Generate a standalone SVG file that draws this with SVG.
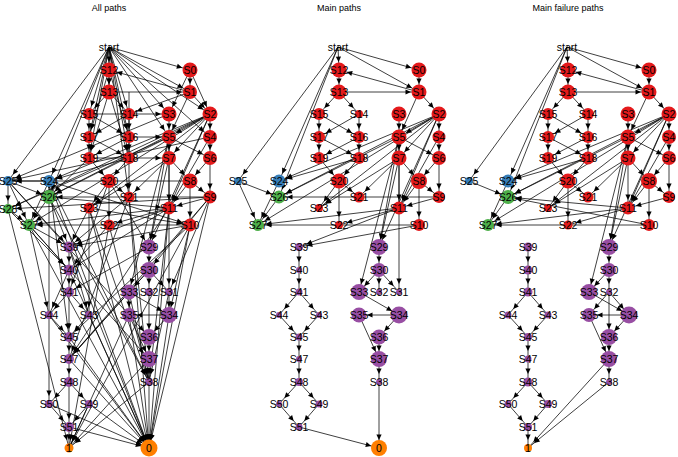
<svg xmlns="http://www.w3.org/2000/svg" width="678" height="457" viewBox="0 0 678 457">
<style>
text{font-family:"Liberation Sans",Arial,sans-serif;font-size:10.5px;fill:#000;text-anchor:middle;dominant-baseline:central}
.t{font-size:9px}
line{stroke:#000;stroke-width:0.75}
.r{fill:#E41A1C}.b{fill:#377EB8}.g{fill:#4DAF4A}.p{fill:#984EA3}.o{fill:#FF7F00}
</style>
<defs>
<marker id="a" markerUnits="userSpaceOnUse" viewBox="-8 -4 20 8" markerWidth="20" markerHeight="8" refX="8" refY="0" orient="auto" overflow="visible">
<path d="M-5.5,-2.6 L0,0 L-5.5,2.6 z" fill="#000"/>
</marker>
</defs>
<rect width="678" height="457" fill="#fff"/>
<text class="t" x="109" y="8">All paths</text>
<text class="t" x="339" y="8">Main paths</text>
<text class="t" x="568" y="8">Main failure paths</text>
<g id="connectors" marker-end="url(#a)">
<line x1="338" y1="47" x2="339" y2="70"/><line x1="338" y1="47" x2="419" y2="70"/><line x1="338" y1="47" x2="419" y2="92"/>
<line x1="338" y1="47" x2="238" y2="181"/><line x1="338" y1="47" x2="279" y2="181"/><line x1="338" y1="47" x2="279" y2="197"/>
<line x1="419" y1="70" x2="419" y2="92"/><line x1="419" y1="92" x2="339" y2="70"/><line x1="339" y1="92" x2="419" y2="92"/>
<line x1="339" y1="70" x2="339" y2="92"/>
<line x1="339" y1="92" x2="319" y2="114"/><line x1="339" y1="92" x2="359" y2="114"/>
<line x1="319" y1="114" x2="319" y2="137"/><line x1="319" y1="114" x2="359" y2="137"/><line x1="359" y1="114" x2="319" y2="137"/><line x1="359" y1="114" x2="359" y2="137"/>
<line x1="319" y1="137" x2="319" y2="158"/><line x1="319" y1="137" x2="359" y2="158"/><line x1="359" y1="137" x2="319" y2="158"/><line x1="359" y1="137" x2="359" y2="158"/>
<line x1="319" y1="158" x2="339" y2="181"/><line x1="359" y1="158" x2="339" y2="181"/><line x1="359" y1="158" x2="279" y2="181"/>
<line x1="339" y1="181" x2="359" y2="197"/><line x1="339" y1="181" x2="339" y2="225"/><line x1="339" y1="181" x2="319" y2="208"/>
<line x1="419" y1="92" x2="399" y2="137"/><line x1="419" y1="92" x2="439" y2="114"/><line x1="399" y1="114" x2="399" y2="137"/>
<line x1="439" y1="114" x2="439" y2="137"/><line x1="439" y1="137" x2="439" y2="158"/><line x1="399" y1="137" x2="399" y2="158"/><line x1="399" y1="137" x2="439" y2="158"/>
<line x1="439" y1="114" x2="399" y2="137"/><line x1="439" y1="114" x2="399" y2="158"/><line x1="439" y1="114" x2="279" y2="181"/><line x1="439" y1="114" x2="279" y2="197"/>
<line x1="439" y1="114" x2="258" y2="225"/><line x1="439" y1="114" x2="399" y2="208"/><line x1="439" y1="114" x2="319" y2="208"/><line x1="439" y1="114" x2="379" y2="247"/>
<line x1="399" y1="158" x2="419" y2="181"/><line x1="439" y1="158" x2="419" y2="181"/><line x1="419" y1="181" x2="439" y2="197"/><line x1="419" y1="181" x2="419" y2="225"/>
<line x1="419" y1="181" x2="399" y2="208"/><line x1="439" y1="158" x2="439" y2="197"/><line x1="439" y1="197" x2="399" y2="208"/><line x1="439" y1="197" x2="279" y2="197"/>
<line x1="399" y1="208" x2="258" y2="225"/><line x1="419" y1="225" x2="258" y2="225"/><line x1="399" y1="208" x2="299" y2="247"/><line x1="419" y1="225" x2="299" y2="247"/>
<line x1="399" y1="158" x2="359" y2="197"/><line x1="399" y1="158" x2="319" y2="208"/><line x1="399" y1="208" x2="339" y2="225"/><line x1="439" y1="137" x2="399" y2="208"/>
<line x1="399" y1="137" x2="379" y2="247"/><line x1="399" y1="158" x2="379" y2="247"/><line x1="399" y1="158" x2="399" y2="292"/><line x1="399" y1="137" x2="359" y2="292"/>
<line x1="399" y1="137" x2="399" y2="208"/><line x1="399" y1="137" x2="279" y2="197"/>
<line x1="238" y1="181" x2="279" y2="197"/><line x1="238" y1="181" x2="258" y2="225"/><line x1="279" y1="181" x2="258" y2="225"/><line x1="279" y1="197" x2="258" y2="225"/>
<line x1="299" y1="247" x2="299" y2="270"/><line x1="299" y1="270" x2="299" y2="292"/><line x1="299" y1="292" x2="279" y2="315"/><line x1="299" y1="292" x2="319" y2="315"/>
<line x1="279" y1="315" x2="299" y2="337"/><line x1="319" y1="315" x2="299" y2="337"/><line x1="299" y1="337" x2="299" y2="359"/><line x1="299" y1="359" x2="299" y2="382"/>
<line x1="299" y1="382" x2="279" y2="404"/><line x1="299" y1="382" x2="319" y2="404"/><line x1="279" y1="404" x2="299" y2="427"/><line x1="319" y1="404" x2="299" y2="427"/>
<line x1="299" y1="427" x2="379" y2="448"/>
<line x1="379" y1="247" x2="379" y2="270"/><line x1="379" y1="270" x2="359" y2="292"/><line x1="379" y1="270" x2="379" y2="292"/><line x1="379" y1="270" x2="399" y2="292"/>
<line x1="359" y1="292" x2="399" y2="315"/><line x1="399" y1="315" x2="359" y2="315"/><line x1="399" y1="315" x2="379" y2="337"/><line x1="359" y1="315" x2="379" y2="359"/>
<line x1="379" y1="337" x2="379" y2="359"/><line x1="379" y1="359" x2="379" y2="382"/><line x1="379" y1="382" x2="379" y2="448"/>
<line x1="567" y1="47" x2="568" y2="70"/><line x1="567" y1="47" x2="649" y2="70"/><line x1="567" y1="47" x2="649" y2="92"/>
<line x1="567" y1="47" x2="469" y2="181"/><line x1="567" y1="47" x2="508" y2="181"/><line x1="567" y1="47" x2="508" y2="197"/>
<line x1="649" y1="70" x2="649" y2="92"/><line x1="649" y1="92" x2="568" y2="70"/><line x1="568" y1="92" x2="649" y2="92"/>
<line x1="568" y1="70" x2="568" y2="92"/>
<line x1="568" y1="92" x2="548" y2="114"/><line x1="568" y1="92" x2="588" y2="114"/>
<line x1="548" y1="114" x2="548" y2="137"/><line x1="548" y1="114" x2="588" y2="137"/><line x1="588" y1="114" x2="548" y2="137"/><line x1="588" y1="114" x2="588" y2="137"/>
<line x1="548" y1="137" x2="548" y2="158"/><line x1="548" y1="137" x2="588" y2="158"/><line x1="588" y1="137" x2="548" y2="158"/><line x1="588" y1="137" x2="588" y2="158"/>
<line x1="548" y1="158" x2="568" y2="181"/><line x1="588" y1="158" x2="568" y2="181"/><line x1="588" y1="158" x2="508" y2="181"/>
<line x1="568" y1="181" x2="588" y2="197"/><line x1="568" y1="181" x2="568" y2="225"/><line x1="568" y1="181" x2="548" y2="208"/>
<line x1="649" y1="92" x2="628" y2="137"/><line x1="649" y1="92" x2="669" y2="114"/><line x1="628" y1="114" x2="628" y2="137"/>
<line x1="669" y1="114" x2="669" y2="137"/><line x1="669" y1="137" x2="669" y2="158"/><line x1="628" y1="137" x2="628" y2="158"/><line x1="628" y1="137" x2="669" y2="158"/>
<line x1="669" y1="114" x2="628" y2="137"/><line x1="669" y1="114" x2="628" y2="158"/><line x1="669" y1="114" x2="508" y2="181"/><line x1="669" y1="114" x2="508" y2="197"/>
<line x1="669" y1="114" x2="488" y2="225"/><line x1="669" y1="114" x2="628" y2="208"/><line x1="669" y1="114" x2="548" y2="208"/><line x1="669" y1="114" x2="609" y2="247"/>
<line x1="628" y1="158" x2="649" y2="181"/><line x1="669" y1="158" x2="649" y2="181"/><line x1="649" y1="181" x2="669" y2="197"/><line x1="649" y1="181" x2="649" y2="225"/>
<line x1="649" y1="181" x2="628" y2="208"/><line x1="669" y1="158" x2="669" y2="197"/><line x1="669" y1="197" x2="628" y2="208"/><line x1="628" y1="208" x2="508" y2="197"/>
<line x1="628" y1="208" x2="488" y2="225"/><line x1="649" y1="225" x2="488" y2="225"/><line x1="649" y1="225" x2="508" y2="197"/>
<line x1="628" y1="158" x2="588" y2="197"/><line x1="628" y1="158" x2="548" y2="208"/><line x1="628" y1="208" x2="568" y2="225"/><line x1="669" y1="137" x2="628" y2="208"/>
<line x1="628" y1="137" x2="609" y2="247"/><line x1="628" y1="158" x2="609" y2="247"/><line x1="628" y1="137" x2="589" y2="292"/>
<line x1="628" y1="137" x2="628" y2="208"/><line x1="628" y1="137" x2="508" y2="197"/>
<line x1="469" y1="181" x2="508" y2="197"/><line x1="508" y1="181" x2="488" y2="225"/><line x1="508" y1="197" x2="488" y2="225"/>
<line x1="528" y1="247" x2="528" y2="270"/><line x1="528" y1="270" x2="528" y2="292"/><line x1="528" y1="292" x2="508" y2="315"/><line x1="528" y1="292" x2="548" y2="315"/>
<line x1="508" y1="315" x2="528" y2="337"/><line x1="548" y1="315" x2="528" y2="337"/><line x1="528" y1="337" x2="528" y2="359"/><line x1="528" y1="359" x2="528" y2="382"/>
<line x1="528" y1="382" x2="508" y2="404"/><line x1="528" y1="382" x2="548" y2="404"/><line x1="508" y1="404" x2="528" y2="427"/><line x1="548" y1="404" x2="528" y2="427"/>
<line x1="528" y1="427" x2="528" y2="448"/>
<line x1="609" y1="247" x2="609" y2="270"/><line x1="609" y1="270" x2="589" y2="292"/><line x1="609" y1="270" x2="609" y2="292"/>
<line x1="589" y1="292" x2="629" y2="315"/><line x1="609" y1="292" x2="589" y2="315"/><line x1="609" y1="292" x2="629" y2="315"/><line x1="609" y1="292" x2="609" y2="337"/>
<line x1="629" y1="315" x2="589" y2="315"/><line x1="629" y1="315" x2="609" y2="337"/><line x1="589" y1="315" x2="609" y2="359"/>
<line x1="609" y1="337" x2="609" y2="359"/><line x1="609" y1="359" x2="609" y2="382"/><line x1="609" y1="359" x2="528" y2="448"/><line x1="609" y1="382" x2="528" y2="448"/>
<line x1="109" y1="47" x2="109" y2="70"/><line x1="109" y1="47" x2="190" y2="70"/><line x1="109" y1="47" x2="190" y2="92"/><line x1="109" y1="47" x2="109" y2="92"/>
<line x1="109" y1="47" x2="8" y2="181"/><line x1="109" y1="47" x2="49" y2="181"/><line x1="109" y1="47" x2="49" y2="197"/><line x1="109" y1="47" x2="89" y2="114"/>
<line x1="109" y1="47" x2="129" y2="114"/><line x1="109" y1="47" x2="169" y2="114"/><line x1="109" y1="47" x2="210" y2="114"/><line x1="109" y1="47" x2="89" y2="137"/>
<line x1="109" y1="47" x2="129" y2="137"/><line x1="109" y1="47" x2="169" y2="137"/><line x1="109" y1="47" x2="89" y2="158"/><line x1="109" y1="47" x2="129" y2="158"/>
<line x1="109" y1="47" x2="129" y2="197"/><line x1="109" y1="47" x2="210" y2="137"/>
<line x1="190" y1="70" x2="190" y2="92"/><line x1="190" y1="92" x2="109" y2="70"/><line x1="109" y1="92" x2="190" y2="92"/><line x1="109" y1="70" x2="109" y2="92"/>
<line x1="190" y1="70" x2="210" y2="114"/><line x1="190" y1="70" x2="169" y2="114"/><line x1="109" y1="70" x2="129" y2="137"/><line x1="109" y1="70" x2="89" y2="137"/>
<line x1="109" y1="92" x2="89" y2="114"/><line x1="109" y1="92" x2="129" y2="114"/><line x1="109" y1="92" x2="89" y2="158"/><line x1="109" y1="92" x2="129" y2="158"/>
<line x1="89" y1="114" x2="89" y2="137"/><line x1="89" y1="114" x2="129" y2="137"/><line x1="129" y1="114" x2="89" y2="137"/><line x1="129" y1="114" x2="129" y2="137"/>
<line x1="89" y1="137" x2="89" y2="158"/><line x1="89" y1="137" x2="129" y2="158"/><line x1="129" y1="137" x2="89" y2="158"/><line x1="129" y1="137" x2="129" y2="158"/>
<line x1="89" y1="114" x2="169" y2="114"/><line x1="129" y1="137" x2="169" y2="137"/><line x1="89" y1="158" x2="169" y2="158"/>
<line x1="89" y1="158" x2="109" y2="181"/><line x1="129" y1="158" x2="109" y2="181"/><line x1="129" y1="158" x2="49" y2="181"/><line x1="89" y1="158" x2="49" y2="197"/>
<line x1="109" y1="181" x2="129" y2="197"/><line x1="109" y1="181" x2="109" y2="225"/><line x1="109" y1="181" x2="89" y2="208"/><line x1="129" y1="92" x2="129" y2="197"/>
<line x1="190" y1="92" x2="169" y2="137"/><line x1="190" y1="92" x2="210" y2="114"/><line x1="169" y1="114" x2="169" y2="137"/><line x1="190" y1="92" x2="129" y2="114"/>
<line x1="210" y1="114" x2="210" y2="137"/><line x1="210" y1="137" x2="210" y2="158"/><line x1="169" y1="137" x2="169" y2="158"/><line x1="169" y1="137" x2="210" y2="158"/>
<line x1="210" y1="114" x2="169" y2="137"/><line x1="210" y1="114" x2="169" y2="158"/><line x1="210" y1="114" x2="49" y2="181"/><line x1="210" y1="114" x2="49" y2="197"/>
<line x1="210" y1="114" x2="29" y2="225"/><line x1="210" y1="114" x2="169" y2="208"/><line x1="210" y1="114" x2="89" y2="208"/><line x1="210" y1="114" x2="149" y2="247"/>
<line x1="210" y1="114" x2="8" y2="209"/><line x1="169" y1="114" x2="8" y2="181"/><line x1="210" y1="137" x2="8" y2="181"/><line x1="169" y1="137" x2="8" y2="209"/>
<line x1="169" y1="158" x2="190" y2="181"/><line x1="210" y1="158" x2="190" y2="181"/><line x1="190" y1="181" x2="210" y2="197"/><line x1="190" y1="181" x2="190" y2="225"/>
<line x1="190" y1="181" x2="169" y2="208"/><line x1="210" y1="158" x2="210" y2="197"/><line x1="210" y1="197" x2="169" y2="208"/><line x1="210" y1="197" x2="49" y2="197"/>
<line x1="169" y1="208" x2="29" y2="225"/><line x1="190" y1="225" x2="29" y2="225"/><line x1="169" y1="208" x2="69" y2="247"/><line x1="190" y1="225" x2="69" y2="247"/>
<line x1="169" y1="158" x2="129" y2="197"/><line x1="169" y1="158" x2="89" y2="208"/><line x1="169" y1="208" x2="109" y2="225"/><line x1="210" y1="137" x2="169" y2="208"/>
<line x1="169" y1="137" x2="149" y2="247"/><line x1="169" y1="158" x2="149" y2="247"/><line x1="169" y1="158" x2="169" y2="292"/><line x1="169" y1="137" x2="129" y2="292"/>
<line x1="169" y1="137" x2="169" y2="208"/><line x1="169" y1="137" x2="49" y2="197"/><line x1="210" y1="197" x2="8" y2="209"/><line x1="190" y1="181" x2="8" y2="181"/>
<line x1="8" y1="181" x2="49" y2="197"/><line x1="8" y1="181" x2="8" y2="209"/><line x1="8" y1="181" x2="29" y2="225"/><line x1="49" y1="181" x2="29" y2="225"/><line x1="49" y1="197" x2="29" y2="225"/>
<line x1="8" y1="209" x2="29" y2="225"/><line x1="49" y1="181" x2="8" y2="181"/><line x1="49" y1="181" x2="49" y2="197"/>
<line x1="8" y1="181" x2="69" y2="247"/><line x1="8" y1="209" x2="69" y2="270"/><line x1="29" y1="225" x2="69" y2="247"/><line x1="29" y1="225" x2="69" y2="270"/><line x1="29" y1="225" x2="49" y2="315"/>
<line x1="49" y1="197" x2="69" y2="247"/><line x1="49" y1="197" x2="49" y2="404"/><line x1="49" y1="181" x2="69" y2="337"/><line x1="8" y1="209" x2="69" y2="448"/><line x1="29" y1="225" x2="149" y2="448"/>
<line x1="49" y1="197" x2="149" y2="382"/><line x1="8" y1="181" x2="149" y2="337"/><line x1="29" y1="225" x2="149" y2="359"/><line x1="49" y1="181" x2="149" y2="448"/>
<line x1="89" y1="208" x2="69" y2="247"/><line x1="89" y1="208" x2="89" y2="315"/><line x1="89" y1="208" x2="149" y2="448"/><line x1="109" y1="225" x2="69" y2="270"/><line x1="109" y1="225" x2="69" y2="448"/>
<line x1="129" y1="197" x2="69" y2="247"/><line x1="129" y1="197" x2="149" y2="448"/><line x1="129" y1="197" x2="69" y2="359"/><line x1="89" y1="208" x2="190" y2="225"/>
<line x1="169" y1="208" x2="69" y2="270"/><line x1="169" y1="208" x2="149" y2="448"/><line x1="190" y1="225" x2="149" y2="448"/><line x1="190" y1="225" x2="69" y2="448"/><line x1="210" y1="197" x2="169" y2="292"/>
<line x1="210" y1="197" x2="149" y2="448"/><line x1="210" y1="197" x2="149" y2="270"/><line x1="190" y1="225" x2="169" y2="315"/><line x1="169" y1="208" x2="149" y2="382"/>
<line x1="109" y1="181" x2="149" y2="247"/><line x1="109" y1="181" x2="69" y2="292"/><line x1="49" y1="181" x2="190" y2="225"/><line x1="49" y1="197" x2="169" y2="208"/>
<line x1="69" y1="247" x2="69" y2="270"/><line x1="69" y1="270" x2="69" y2="292"/><line x1="69" y1="292" x2="49" y2="315"/><line x1="69" y1="292" x2="89" y2="315"/>
<line x1="49" y1="315" x2="69" y2="337"/><line x1="89" y1="315" x2="69" y2="337"/><line x1="69" y1="337" x2="69" y2="359"/><line x1="69" y1="359" x2="69" y2="382"/>
<line x1="69" y1="382" x2="49" y2="404"/><line x1="69" y1="382" x2="89" y2="404"/><line x1="49" y1="404" x2="69" y2="427"/><line x1="89" y1="404" x2="69" y2="427"/>
<line x1="69" y1="427" x2="149" y2="448"/><line x1="69" y1="427" x2="69" y2="448"/><line x1="69" y1="247" x2="149" y2="448"/><line x1="69" y1="270" x2="149" y2="448"/>
<line x1="69" y1="270" x2="49" y2="315"/><line x1="69" y1="247" x2="89" y2="315"/><line x1="69" y1="292" x2="69" y2="337"/><line x1="69" y1="382" x2="69" y2="427"/>
<line x1="49" y1="315" x2="149" y2="448"/><line x1="89" y1="315" x2="149" y2="448"/><line x1="69" y1="337" x2="149" y2="448"/><line x1="69" y1="359" x2="149" y2="448"/>
<line x1="89" y1="404" x2="149" y2="448"/><line x1="49" y1="404" x2="149" y2="448"/><line x1="89" y1="404" x2="69" y2="448"/>
<line x1="149" y1="247" x2="149" y2="270"/><line x1="149" y1="270" x2="129" y2="292"/><line x1="149" y1="270" x2="149" y2="292"/><line x1="149" y1="270" x2="169" y2="292"/>
<line x1="129" y1="292" x2="169" y2="315"/><line x1="169" y1="315" x2="129" y2="315"/><line x1="169" y1="315" x2="149" y2="337"/><line x1="129" y1="315" x2="149" y2="359"/>
<line x1="149" y1="337" x2="149" y2="359"/><line x1="149" y1="359" x2="149" y2="382"/><line x1="149" y1="382" x2="149" y2="448"/><line x1="149" y1="359" x2="69" y2="448"/>
<line x1="149" y1="382" x2="69" y2="448"/><line x1="129" y1="292" x2="69" y2="359"/><line x1="129" y1="315" x2="69" y2="448"/><line x1="169" y1="292" x2="169" y2="315"/>
<line x1="149" y1="292" x2="149" y2="337"/><line x1="129" y1="292" x2="129" y2="315"/><line x1="149" y1="247" x2="69" y2="292"/><line x1="149" y1="270" x2="69" y2="359"/>
<line x1="129" y1="292" x2="149" y2="382"/><line x1="169" y1="315" x2="149" y2="448"/><line x1="129" y1="315" x2="149" y2="448"/><line x1="169" y1="292" x2="149" y2="382"/>
<line x1="129" y1="197" x2="149" y2="382"/><line x1="89" y1="208" x2="149" y2="382"/><line x1="109" y1="225" x2="149" y2="382"/><line x1="49" y1="181" x2="149" y2="382"/>
<line x1="169" y1="208" x2="69" y2="359"/><line x1="210" y1="197" x2="69" y2="359"/><line x1="190" y1="225" x2="69" y2="337"/>
</g>
<g id="nodes">
<g id="L-start"><text x="109" y="47">start</text></g>
<g id="L-S12"><circle class="r" cx="109" cy="70" r="7.5"/><text x="109" y="70">S12</text></g>
<g id="L-S0"><circle class="r" cx="190" cy="70" r="7.5"/><text x="190" y="70">S0</text></g>
<g id="L-S13"><circle class="r" cx="109" cy="92" r="7.5"/><text x="109" y="92">S13</text></g>
<g id="L-S1"><circle class="r" cx="190" cy="92" r="7"/><text x="190" y="92">S1</text></g>
<g id="L-S15"><circle class="r" cx="89" cy="114" r="6"/><text x="89" y="114">S15</text></g>
<g id="L-S14"><circle class="r" cx="129" cy="114" r="6"/><text x="129" y="114">S14</text></g>
<g id="L-S3"><circle class="r" cx="169" cy="114" r="7.5"/><text x="169" y="114">S3</text></g>
<g id="L-S2"><circle class="r" cx="210" cy="114" r="7.5"/><text x="210" y="114">S2</text></g>
<g id="L-S17"><circle class="r" cx="89" cy="137" r="6"/><text x="89" y="137">S17</text></g>
<g id="L-S16"><circle class="r" cx="129" cy="137" r="6"/><text x="129" y="137">S16</text></g>
<g id="L-S5"><circle class="r" cx="169" cy="137" r="7"/><text x="169" y="137">S5</text></g>
<g id="L-S4"><circle class="r" cx="210" cy="137" r="7"/><text x="210" y="137">S4</text></g>
<g id="L-S19"><circle class="r" cx="89" cy="158" r="6"/><text x="89" y="158">S19</text></g>
<g id="L-S18"><circle class="r" cx="129" cy="158" r="6"/><text x="129" y="158">S18</text></g>
<g id="L-S7"><circle class="r" cx="169" cy="158" r="7"/><text x="169" y="158">S7</text></g>
<g id="L-S6"><circle class="r" cx="210" cy="158" r="7"/><text x="210" y="158">S6</text></g>
<g id="L-S25"><circle class="b" cx="8" cy="181" r="5"/><text x="8" y="181">S25</text></g>
<g id="L-S24"><circle class="b" cx="49" cy="181" r="6"/><text x="49" y="181">S24</text></g>
<g id="L-S20"><circle class="r" cx="109" cy="181" r="7"/><text x="109" y="181">S20</text></g>
<g id="L-S8"><circle class="r" cx="190" cy="181" r="7.5"/><text x="190" y="181">S8</text></g>
<g id="L-S26"><circle class="g" cx="49" cy="197" r="7"/><text x="49" y="197">S26</text></g>
<g id="L-S21"><circle class="r" cx="129" cy="197" r="5.5"/><text x="129" y="197">S21</text></g>
<g id="L-S9"><circle class="r" cx="210" cy="197" r="6.5"/><text x="210" y="197">S9</text></g>
<g id="L-S28"><circle class="g" cx="8" cy="209" r="5"/><text x="8" y="209">S28</text></g>
<g id="L-S23"><circle class="r" cx="89" cy="208" r="5.5"/><text x="89" y="208">S23</text></g>
<g id="L-S11"><circle class="r" cx="169" cy="208" r="6.5"/><text x="169" y="208">S11</text></g>
<g id="L-S27"><circle class="g" cx="29" cy="225" r="6"/><text x="29" y="225">S27</text></g>
<g id="L-S22"><circle class="r" cx="109" cy="225" r="5.5"/><text x="109" y="225">S22</text></g>
<g id="L-S10"><circle class="r" cx="190" cy="225" r="6.5"/><text x="190" y="225">S10</text></g>
<g id="L-S39"><circle class="p" cx="69" cy="247" r="5.5"/><text x="69" y="247">S39</text></g>
<g id="L-S29"><circle class="p" cx="149" cy="247" r="7.5"/><text x="149" y="247">S29</text></g>
<g id="L-S40"><circle class="p" cx="69" cy="270" r="5.5"/><text x="69" y="270">S40</text></g>
<g id="L-S30"><circle class="p" cx="149" cy="270" r="8"/><text x="149" y="270">S30</text></g>
<g id="L-S41"><circle class="p" cx="69" cy="292" r="5"/><text x="69" y="292">S41</text></g>
<g id="L-S33"><circle class="p" cx="129" cy="292" r="7.5"/><text x="129" y="292">S33</text></g>
<g id="L-S32"><circle class="p" cx="149" cy="292" r="4"/><text x="149" y="292">S32</text></g>
<g id="L-S31"><circle class="p" cx="169" cy="292" r="4"/><text x="169" y="292">S31</text></g>
<g id="L-S44"><circle class="p" cx="49" cy="315" r="4"/><text x="49" y="315">S44</text></g>
<g id="L-S43"><circle class="p" cx="89" cy="315" r="4"/><text x="89" y="315">S43</text></g>
<g id="L-S35"><circle class="p" cx="129" cy="315" r="7"/><text x="129" y="315">S35</text></g>
<g id="L-S34"><circle class="p" cx="169" cy="315" r="8"/><text x="169" y="315">S34</text></g>
<g id="L-S45"><circle class="p" cx="69" cy="337" r="5"/><text x="69" y="337">S45</text></g>
<g id="L-S36"><circle class="p" cx="149" cy="337" r="8"/><text x="149" y="337">S36</text></g>
<g id="L-S47"><circle class="p" cx="69" cy="359" r="5"/><text x="69" y="359">S47</text></g>
<g id="L-S37"><circle class="p" cx="149" cy="359" r="8"/><text x="149" y="359">S37</text></g>
<g id="L-S48"><circle class="p" cx="69" cy="382" r="5"/><text x="69" y="382">S48</text></g>
<g id="L-S38"><circle class="p" cx="149" cy="382" r="4"/><text x="149" y="382">S38</text></g>
<g id="L-S50"><circle class="p" cx="49" cy="404" r="4"/><text x="49" y="404">S50</text></g>
<g id="L-S49"><circle class="p" cx="89" cy="404" r="4"/><text x="89" y="404">S49</text></g>
<g id="L-S51"><circle class="p" cx="69" cy="427" r="5"/><text x="69" y="427">S51</text></g>
<g id="L-1"><circle class="o" cx="69" cy="448" r="4.5"/><text x="69" y="448">1</text></g>
<g id="L-0"><circle class="o" cx="149" cy="448" r="8.5"/><text x="149" y="448">0</text></g>
<g id="M-start"><text x="338" y="47">start</text></g>
<g id="M-S12"><circle class="r" cx="339" cy="70" r="7.5"/><text x="339" y="70">S12</text></g>
<g id="M-S0"><circle class="r" cx="419" cy="70" r="7.5"/><text x="419" y="70">S0</text></g>
<g id="M-S13"><circle class="r" cx="339" cy="92" r="7.5"/><text x="339" y="92">S13</text></g>
<g id="M-S1"><circle class="r" cx="419" cy="92" r="7.5"/><text x="419" y="92">S1</text></g>
<g id="M-S15"><circle class="r" cx="319" cy="114" r="6"/><text x="319" y="114">S15</text></g>
<g id="M-S14"><circle class="r" cx="359" cy="114" r="4"/><text x="359" y="114">S14</text></g>
<g id="M-S3"><circle class="r" cx="399" cy="114" r="7.5"/><text x="399" y="114">S3</text></g>
<g id="M-S2"><circle class="r" cx="439" cy="114" r="7.5"/><text x="439" y="114">S2</text></g>
<g id="M-S17"><circle class="r" cx="319" cy="137" r="6"/><text x="319" y="137">S17</text></g>
<g id="M-S16"><circle class="r" cx="359" cy="137" r="6"/><text x="359" y="137">S16</text></g>
<g id="M-S5"><circle class="r" cx="399" cy="137" r="7.5"/><text x="399" y="137">S5</text></g>
<g id="M-S4"><circle class="r" cx="439" cy="137" r="6.5"/><text x="439" y="137">S4</text></g>
<g id="M-S19"><circle class="r" cx="319" cy="158" r="6"/><text x="319" y="158">S19</text></g>
<g id="M-S18"><circle class="r" cx="359" cy="158" r="6"/><text x="359" y="158">S18</text></g>
<g id="M-S7"><circle class="r" cx="399" cy="158" r="7.5"/><text x="399" y="158">S7</text></g>
<g id="M-S6"><circle class="r" cx="439" cy="158" r="7"/><text x="439" y="158">S6</text></g>
<g id="M-S25"><circle class="b" cx="238" cy="181" r="4"/><text x="238" y="181">S25</text></g>
<g id="M-S24"><circle class="b" cx="279" cy="181" r="6.5"/><text x="279" y="181">S24</text></g>
<g id="M-S20"><circle class="r" cx="339" cy="181" r="7.5"/><text x="339" y="181">S20</text></g>
<g id="M-S8"><circle class="r" cx="419" cy="181" r="8"/><text x="419" y="181">S8</text></g>
<g id="M-S26"><circle class="g" cx="279" cy="197" r="6.5"/><text x="279" y="197">S26</text></g>
<g id="M-S21"><circle class="r" cx="359" cy="197" r="5.5"/><text x="359" y="197">S21</text></g>
<g id="M-S9"><circle class="r" cx="439" cy="197" r="6"/><text x="439" y="197">S9</text></g>
<g id="M-S23"><circle class="r" cx="319" cy="208" r="4"/><text x="319" y="208">S23</text></g>
<g id="M-S11"><circle class="r" cx="399" cy="208" r="6.5"/><text x="399" y="208">S11</text></g>
<g id="M-S27"><circle class="g" cx="258" cy="225" r="6"/><text x="258" y="225">S27</text></g>
<g id="M-S22"><circle class="r" cx="339" cy="225" r="4"/><text x="339" y="225">S22</text></g>
<g id="M-S10"><circle class="r" cx="419" cy="225" r="6"/><text x="419" y="225">S10</text></g>
<g id="M-S39"><circle class="p" cx="299" cy="247" r="4"/><text x="299" y="247">S39</text></g>
<g id="M-S29"><circle class="p" cx="379" cy="247" r="8"/><text x="379" y="247">S29</text></g>
<g id="M-S40"><circle class="p" cx="299" cy="270" r="3"/><text x="299" y="270">S40</text></g>
<g id="M-S30"><circle class="p" cx="379" cy="270" r="7"/><text x="379" y="270">S30</text></g>
<g id="M-S41"><circle class="p" cx="299" cy="292" r="3.5"/><text x="299" y="292">S41</text></g>
<g id="M-S33"><circle class="p" cx="359" cy="292" r="8"/><text x="359" y="292">S33</text></g>
<g id="M-S32"><circle class="p" cx="379" cy="292" r="3"/><text x="379" y="292">S32</text></g>
<g id="M-S31"><circle class="p" cx="399" cy="292" r="3"/><text x="399" y="292">S31</text></g>
<g id="M-S44"><circle class="p" cx="279" cy="315" r="3"/><text x="279" y="315">S44</text></g>
<g id="M-S43"><circle class="p" cx="319" cy="315" r="3"/><text x="319" y="315">S43</text></g>
<g id="M-S35"><circle class="p" cx="359" cy="315" r="7.5"/><text x="359" y="315">S35</text></g>
<g id="M-S34"><circle class="p" cx="399" cy="315" r="8.5"/><text x="399" y="315">S34</text></g>
<g id="M-S45"><circle class="p" cx="299" cy="337" r="3.5"/><text x="299" y="337">S45</text></g>
<g id="M-S36"><circle class="p" cx="379" cy="337" r="7.5"/><text x="379" y="337">S36</text></g>
<g id="M-S47"><circle class="p" cx="299" cy="359" r="3"/><text x="299" y="359">S47</text></g>
<g id="M-S37"><circle class="p" cx="379" cy="359" r="8"/><text x="379" y="359">S37</text></g>
<g id="M-S48"><circle class="p" cx="299" cy="382" r="4"/><text x="299" y="382">S48</text></g>
<g id="M-S38"><circle class="p" cx="379" cy="382" r="3"/><text x="379" y="382">S38</text></g>
<g id="M-S50"><circle class="p" cx="279" cy="404" r="3"/><text x="279" y="404">S50</text></g>
<g id="M-S49"><circle class="p" cx="319" cy="404" r="3.5"/><text x="319" y="404">S49</text></g>
<g id="M-S51"><circle class="p" cx="299" cy="427" r="3.5"/><text x="299" y="427">S51</text></g>
<g id="M-0"><circle class="o" cx="379" cy="448" r="8"/><text x="379" y="448">0</text></g>
<g id="R-start"><text x="567" y="47">start</text></g>
<g id="R-S12"><circle class="r" cx="568" cy="70" r="7.5"/><text x="568" y="70">S12</text></g>
<g id="R-S0"><circle class="r" cx="649" cy="70" r="7.5"/><text x="649" y="70">S0</text></g>
<g id="R-S13"><circle class="r" cx="568" cy="92" r="7.5"/><text x="568" y="92">S13</text></g>
<g id="R-S1"><circle class="r" cx="649" cy="92" r="7.5"/><text x="649" y="92">S1</text></g>
<g id="R-S15"><circle class="r" cx="548" cy="114" r="6"/><text x="548" y="114">S15</text></g>
<g id="R-S14"><circle class="r" cx="588" cy="114" r="6"/><text x="588" y="114">S14</text></g>
<g id="R-S3"><circle class="r" cx="628" cy="114" r="7.5"/><text x="628" y="114">S3</text></g>
<g id="R-S2"><circle class="r" cx="669" cy="114" r="7.5"/><text x="669" y="114">S2</text></g>
<g id="R-S17"><circle class="r" cx="548" cy="137" r="6"/><text x="548" y="137">S17</text></g>
<g id="R-S16"><circle class="r" cx="588" cy="137" r="6"/><text x="588" y="137">S16</text></g>
<g id="R-S5"><circle class="r" cx="628" cy="137" r="7.5"/><text x="628" y="137">S5</text></g>
<g id="R-S4"><circle class="r" cx="669" cy="137" r="7"/><text x="669" y="137">S4</text></g>
<g id="R-S19"><circle class="r" cx="548" cy="158" r="6"/><text x="548" y="158">S19</text></g>
<g id="R-S18"><circle class="r" cx="588" cy="158" r="6.5"/><text x="588" y="158">S18</text></g>
<g id="R-S7"><circle class="r" cx="628" cy="158" r="7.5"/><text x="628" y="158">S7</text></g>
<g id="R-S6"><circle class="r" cx="669" cy="158" r="7"/><text x="669" y="158">S6</text></g>
<g id="R-S25"><circle class="b" cx="469" cy="181" r="4"/><text x="469" y="181">S25</text></g>
<g id="R-S24"><circle class="b" cx="508" cy="181" r="6.5"/><text x="508" y="181">S24</text></g>
<g id="R-S20"><circle class="r" cx="568" cy="181" r="7.5"/><text x="568" y="181">S20</text></g>
<g id="R-S8"><circle class="r" cx="649" cy="181" r="8"/><text x="649" y="181">S8</text></g>
<g id="R-S26"><circle class="g" cx="508" cy="197" r="7"/><text x="508" y="197">S26</text></g>
<g id="R-S21"><circle class="r" cx="588" cy="197" r="5.5"/><text x="588" y="197">S21</text></g>
<g id="R-S9"><circle class="r" cx="669" cy="197" r="6"/><text x="669" y="197">S9</text></g>
<g id="R-S23"><circle class="r" cx="548" cy="208" r="4"/><text x="548" y="208">S23</text></g>
<g id="R-S11"><circle class="r" cx="628" cy="208" r="6.5"/><text x="628" y="208">S11</text></g>
<g id="R-S27"><circle class="g" cx="488" cy="225" r="6"/><text x="488" y="225">S27</text></g>
<g id="R-S22"><circle class="r" cx="568" cy="225" r="4.5"/><text x="568" y="225">S22</text></g>
<g id="R-S10"><circle class="r" cx="649" cy="225" r="6"/><text x="649" y="225">S10</text></g>
<g id="R-S39"><circle class="p" cx="528" cy="247" r="4.5"/><text x="528" y="247">S39</text></g>
<g id="R-S29"><circle class="p" cx="609" cy="247" r="8"/><text x="609" y="247">S29</text></g>
<g id="R-S40"><circle class="p" cx="528" cy="270" r="4.5"/><text x="528" y="270">S40</text></g>
<g id="R-S30"><circle class="p" cx="609" cy="270" r="7"/><text x="609" y="270">S30</text></g>
<g id="R-S41"><circle class="p" cx="528" cy="292" r="4.5"/><text x="528" y="292">S41</text></g>
<g id="R-S33"><circle class="p" cx="589" cy="292" r="8"/><text x="589" y="292">S33</text></g>
<g id="R-S32"><circle class="p" cx="609" cy="292" r="3"/><text x="609" y="292">S32</text></g>
<g id="R-S44"><circle class="p" cx="508" cy="315" r="3.5"/><text x="508" y="315">S44</text></g>
<g id="R-S43"><circle class="p" cx="548" cy="315" r="3.5"/><text x="548" y="315">S43</text></g>
<g id="R-S35"><circle class="p" cx="589" cy="315" r="7"/><text x="589" y="315">S35</text></g>
<g id="R-S34"><circle class="p" cx="629" cy="315" r="8.5"/><text x="629" y="315">S34</text></g>
<g id="R-S45"><circle class="p" cx="528" cy="337" r="4"/><text x="528" y="337">S45</text></g>
<g id="R-S36"><circle class="p" cx="609" cy="337" r="8"/><text x="609" y="337">S36</text></g>
<g id="R-S47"><circle class="p" cx="528" cy="359" r="3.5"/><text x="528" y="359">S47</text></g>
<g id="R-S37"><circle class="p" cx="609" cy="359" r="8"/><text x="609" y="359">S37</text></g>
<g id="R-S48"><circle class="p" cx="528" cy="382" r="4.5"/><text x="528" y="382">S48</text></g>
<g id="R-S38"><circle class="p" cx="609" cy="382" r="3"/><text x="609" y="382">S38</text></g>
<g id="R-S50"><circle class="p" cx="508" cy="404" r="3.5"/><text x="508" y="404">S50</text></g>
<g id="R-S49"><circle class="p" cx="548" cy="404" r="4"/><text x="548" y="404">S49</text></g>
<g id="R-S51"><circle class="p" cx="528" cy="427" r="4"/><text x="528" y="427">S51</text></g>
<g id="R-1"><circle class="o" cx="528" cy="448" r="4"/><text x="528" y="448">1</text></g>
</g>
</svg>
